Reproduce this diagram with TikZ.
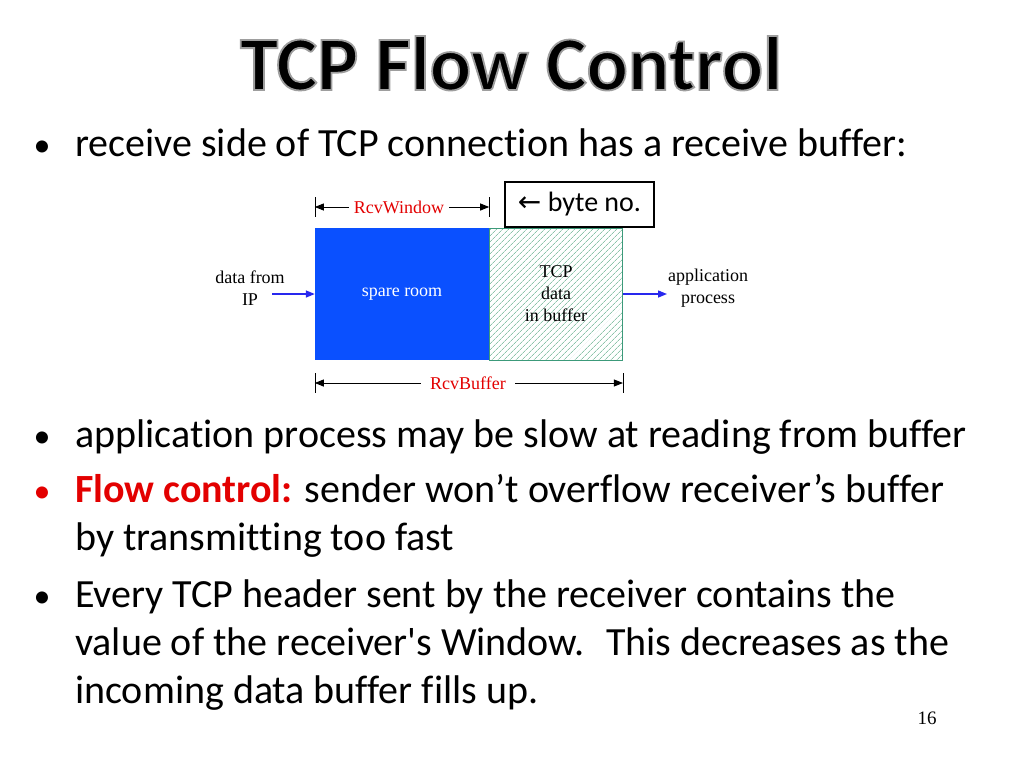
\documentclass[tikz,border=0pt]{standalone}
\usepackage{fontspec}
\usepackage{xcolor}
\usepackage{tikz}
\setmainfont{Liberation Serif}
\newfontfamily\slidefont[Ligatures=NoCommon]{Carlito}
\newfontfamily\arrowfont{DejaVu Sans}
\definecolor{rcvred}{HTML}{E30000}
\definecolor{spareblue}{HTML}{0A50FF}
\definecolor{flowblue}{HTML}{2828EE}
\definecolor{hatchgreen}{HTML}{8CC4AA}
\definecolor{bufedge}{HTML}{3C9A7A}
\usetikzlibrary{arrows.meta, patterns.meta, positioning, calc}
% grey rim round the title letters (fill + stroke render mode)
\newcommand\rimtext[1]{\special{pdf:literal direct 2 Tr 1.8 w 0.62 G}#1\special{pdf:literal direct 0 Tr 1 w 0 G}}

\begin{document}
\begin{tikzpicture}[
    x=1pt, y=-1pt,
    body/.style={anchor=base west, inner sep=0pt, font=\slidefont\fontsize{40}{48}\selectfont},
    dot/.style={anchor=base, inner sep=0pt, font=\slidefont\fontsize{34}{40}\selectfont},
    small/.style={align=center, inner sep=0pt, font=\fontsize{18}{22}\selectfont},
    dimlabel/.style={inner sep=5pt, text=rcvred, font=\fontsize{18}{22}\selectfont},
    spare/.style={rectangle, fill=spareblue, minimum width=174pt, minimum height=132pt, inner sep=0pt, text=white, font=\fontsize{18}{22}\selectfont},
    inbuf/.style={rectangle, draw=bufedge, line width=0.8pt, pattern={Lines[angle=45, distance=4pt, line width=0.7pt]}, pattern color=hatchgreen, minimum width=133pt, minimum height=132pt, inner sep=0pt, align=center, font=\fontsize{18}{22}\selectfont},
    bytebox/.style={rectangle, draw, line width=1.5pt, minimum width=149pt, minimum height=45pt, inner sep=0pt, font=\slidefont\fontsize{28}{32}\selectfont},
    dim/.style={line width=0.9pt, -{Triangle[length=9pt, width=7pt]}},
    flow/.style={draw=flowblue, line width=1.4pt, -{Triangle[length=9pt, width=7pt]}, flowblue}
]
\fill[white] (0,0) rectangle (1024,768);
\useasboundingbox (0,0) rectangle (1024,768);

\node[font=\slidefont\bfseries\fontsize{77}{82}\selectfont, anchor=base] (title) at (511,90) {\rimtext{TCP Flow Control}};

% bullets
\node[dot] (b1) at (42,156) {•};
\node[body] (l1) at (75,156) {receive side of TCP connection has a receive buffer:};

% receive buffer
\node[spare] (spare) at (402,294) {spare room};
\node[inbuf, right=0pt of spare] (inbuf) {TCP\\data\\in buffer};
\node[bytebox] (byteno) at (579.5,204.5) {{\arrowfont ←}\ byte no.};

\node[dimlabel] (rcvwin) at (399,207) {RcvWindow};
\draw (spare.west |- rcvwin) ++(0,-10) -- ++(0,20);
\draw (spare.east |- rcvwin) ++(0,-10) -- ++(0,20);
\draw[dim] (rcvwin.west) -- (spare.west |- rcvwin);
\draw[dim] (rcvwin.east) -- (spare.east |- rcvwin);

\node[dimlabel, inner sep=9pt] (rcvbuf) at (468,383) {RcvBuffer};
\draw (spare.west |- rcvbuf) ++(0,-10) -- ++(0,20);
\draw (inbuf.east |- rcvbuf) ++(0,-10) -- ++(0,20);
\draw[dim] (rcvbuf.west) -- (spare.west |- rcvbuf);
\draw[dim] (rcvbuf.east) -- (inbuf.east |- rcvbuf);

\node[small] (ip) at (250,288) {data from\\IP};
\node[small] (app) at (708,288) {application\\process};
\coordinate (ipout) at (272,294);
\coordinate (appin) at (667,294);
\draw[flow] (ipout) -- (spare.west);
\draw[flow] (inbuf.east) -- (appin);

\node[dot] (b2) at (42,447) {•};
\node[body] (l2) at (75,447) {application process may be slow at reading from buffer};

\node[dot, text=rcvred] (b3) at (42,502) {•};
\node[body] (l3a) at (75,502) {{\color{rcvred}\bfseries Flow control:} sender won’t overflow receiver’s buffer};
\node[body] (l3b) at (75,550) {by transmitting too fast};

\node[dot] (b4) at (42,607) {•};
\node[body] (l4a) at (75,607) {Every TCP header sent by the receiver contains the};
\node[body] (l4b) at (75,655) {value of the receiver's Window.~ This decreases as the};
\node[body] (l4c) at (75,703) {incoming data buffer fills up.};

\node[anchor=base, font=\fontsize{19}{22}\selectfont] (pagenum) at (927,724) {16};
\end{tikzpicture}
\end{document}
